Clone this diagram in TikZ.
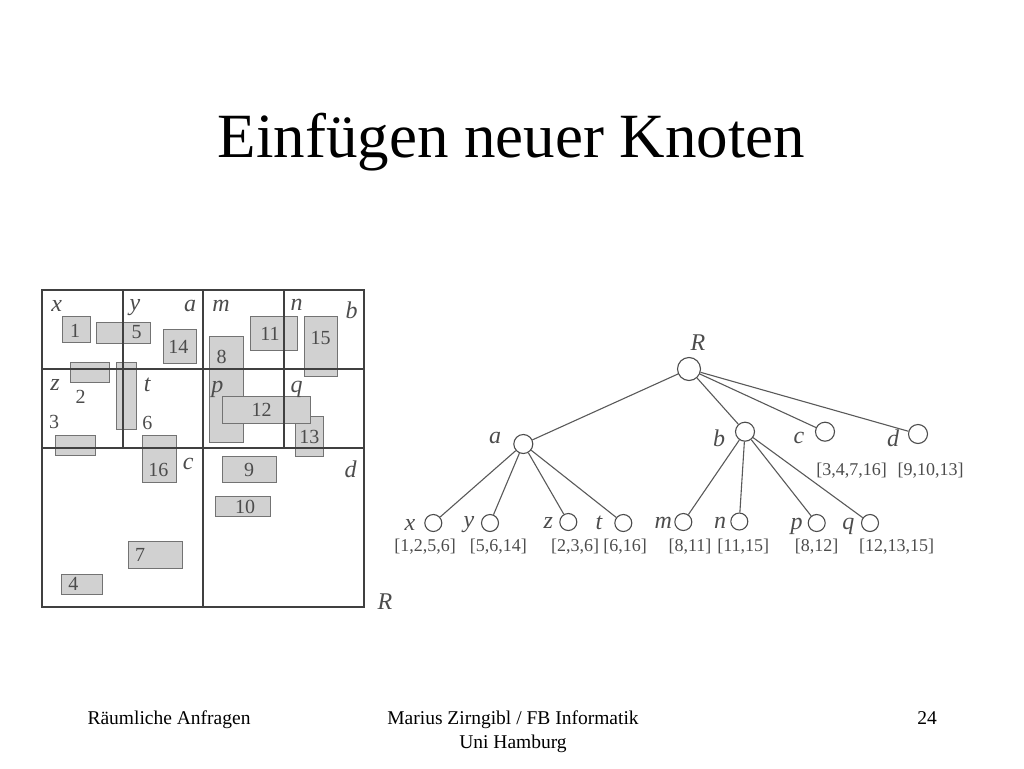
\documentclass[tikz,border=0pt]{standalone}
\usepackage{fontspec}
\setmainfont{Liberation Serif}
\begin{document}
\begin{tikzpicture}[x=1pt,y=-1pt,
  gline/.style={draw=black!75, line width=1.9pt},
  rbox/.style={draw=black!55, fill=black!18, line width=1pt},
  num/.style={font=\fontsize{20}{22}\selectfont, text=black!70, inner sep=0pt},
  lab/.style={font=\fontsize{24}{26}\selectfont\itshape, text=black!70, inner sep=0pt},
  tn/.style={circle, draw=black!70, line width=1.1pt, fill=white, minimum size=17pt, inner sep=0pt},
  midn/.style={tn, minimum size=19pt},
  rootn/.style={tn, minimum size=23pt},
  edge/.style={draw=black!65, line width=1.1pt},
  setl/.style={font=\fontsize{18}{20}\selectfont, text=black!70, inner sep=0pt},
  foot/.style={font=\fontsize{19.5}{22}\selectfont, inner sep=0pt, anchor=base}]
\useasboundingbox (0,0) rectangle (1024,768);

% title
\node[font=\fontsize{63}{70}\selectfont, anchor=base, inner sep=0pt] (title) at (511.5,157) {Einfügen neuer Knoten};

% footer
\node[foot] (f1) at (169,724) {Räumliche Anfragen};
\node[foot] (f2) at (513,724) {Marius Zirngibl / FB Informatik};
\node[foot] (f3) at (513,748) {Uni Hamburg};
\node[foot] (f4) at (927,724) {24};

% rectangles
\draw[rbox] (62.7,316) rectangle (90,342.7);
\draw[rbox] (96.7,322.7) rectangle (150.7,343.3);
\draw[rbox] (163.3,329.3) rectangle (196.7,363.3);
\draw[rbox] (250.5,316.7) rectangle (297.5,350.5);
\draw[rbox] (304,316.7) rectangle (337,376.7);
\draw[rbox] (209.5,336.5) rectangle (243.3,442.7);
\draw[rbox] (70,362.3) rectangle (109.3,382.3);
\draw[rbox] (116,362.3) rectangle (136.7,429);
\draw[rbox] (295.7,416.5) rectangle (323.3,456.5);
\draw[rbox] (222.7,396) rectangle (310,423.3);
\draw[rbox] (55.7,435) rectangle (95.7,455);
\draw[rbox] (142.3,435) rectangle (176,482.3);
\draw[rbox] (222,456) rectangle (276.7,482.7);
\draw[rbox] (215.3,496) rectangle (270,516);
\draw[rbox] (128.3,541.3) rectangle (182.7,568.7);
\draw[rbox] (61,574.3) rectangle (102,594);

% grid
\draw[gline] (42,290) rectangle (364,607);
\draw[gline] (203,290) -- (203,607);
\draw[gline] (42,369) -- (364,369);
\draw[gline] (42,448) -- (364,448);
\draw[gline] (123,290) -- (123,448);
\draw[gline] (284,290) -- (284,448);

% rectangle numbers
\node[num] (n1) at (75,331) {1};
\node[num] (n5) at (136.7,332.5) {5};
\node[num] (n14) at (178.3,346.5) {14};
\node[num] (n11) at (270,334) {11};
\node[num] (n15) at (320.7,338) {15};
\node[num] (n8) at (221.7,356.5) {8};
\node[num] (n2) at (80.7,396.5) {2};
\node[num] (n3) at (54,422) {3};
\node[num] (n6) at (147.3,423) {6};
\node[num] (n12) at (261.7,410) {12};
\node[num] (n13) at (309.3,436.5) {13};
\node[num] (n16) at (158.3,470) {16};
\node[num] (n9) at (249,470) {9};
\node[num] (n10) at (245,506.5) {10};
\node[num] (n7) at (140,555) {7};
\node[num] (n4) at (73.3,584) {4};

% region letters
\node[lab] (gx) at (56.7,306) {x};
\node[lab] (gy) at (135,308) {y};
\node[lab] (ga) at (190,306) {a};
\node[lab] (gm) at (221,306) {m};
\node[lab] (gn) at (296.7,305) {n};
\node[lab] (gb) at (351.7,310) {b};
\node[lab] (gz) at (55,384.5) {z};
\node[lab] (gt) at (147.3,384.5) {t};
\node[lab] (gp) at (217.3,389) {p};
\node[lab] (gq) at (296.7,389) {q};
\node[lab] (gc) at (188.3,463.5) {c};
\node[lab] (gd) at (350.7,469) {d};
\node[lab] (gR) at (385,601.7) {R};

% tree nodes
\node[rootn] (R) at (689,369) {};
\node[midn] (a) at (523.3,444) {};
\node[midn] (b) at (745,431.7) {};
\node[midn] (c) at (825,431.7) {};
\node[midn] (d) at (918,434) {};
\node[tn] (x) at (433.3,523) {};
\node[tn] (y) at (490,523) {};
\node[tn] (z) at (568.3,522) {};
\node[tn] (t) at (623.3,523) {};
\node[tn] (m) at (683.3,522) {};
\node[tn] (n) at (739.3,521.5) {};
\node[tn] (p) at (816.7,523) {};
\node[tn] (q) at (870,523) {};

% tree edges
\draw[edge] (R) -- (a);
\draw[edge] (R) -- (b);
\draw[edge] (R) -- (c);
\draw[edge] (R) -- (d);
\draw[edge] (a) -- (x);
\draw[edge] (a) -- (y);
\draw[edge] (a) -- (z);
\draw[edge] (a) -- (t);
\draw[edge] (b) -- (m);
\draw[edge] (b) -- (n);
\draw[edge] (b) -- (p);
\draw[edge] (b) -- (q);

% tree labels
\node[lab] (lR) at (698,343) {R};
\node[lab] (la) at (495,438) {a};
\node[lab] (lb) at (719,438) {b};
\node[lab] (lc) at (799,438) {c};
\node[lab] (ld) at (893,438) {d};
\node[lab] (lx) at (410,525) {x};
\node[lab] (ly) at (469,525) {y};
\node[lab] (lz) at (548.3,523.3) {z};
\node[lab] (lt) at (599,523.3) {t};
\node[lab] (lm) at (663.3,523.3) {m};
\node[lab] (ln) at (720,523.3) {n};
\node[lab] (lp) at (796.7,526) {p};
\node[lab] (lq) at (848.3,526) {q};

% sets
\node[setl] (sx) at (425,547) {[1,2,5,6]};
\node[setl] (sy) at (498.3,547) {[5,6,14]};
\node[setl] (sz) at (575,547) {[2,3,6]};
\node[setl] (st) at (625,547) {[6,16]};
\node[setl] (sm) at (690,547) {[8,11]};
\node[setl] (sn) at (743.3,547) {[11,15]};
\node[setl] (sp) at (816.7,547) {[8,12]};
\node[setl] (sq) at (896.7,547) {[12,13,15]};
\node[setl] (sc) at (851.5,471) {[3,4,7,16]};
\node[setl] (sd) at (930.5,471) {[9,10,13]};
\end{tikzpicture}
\end{document}
